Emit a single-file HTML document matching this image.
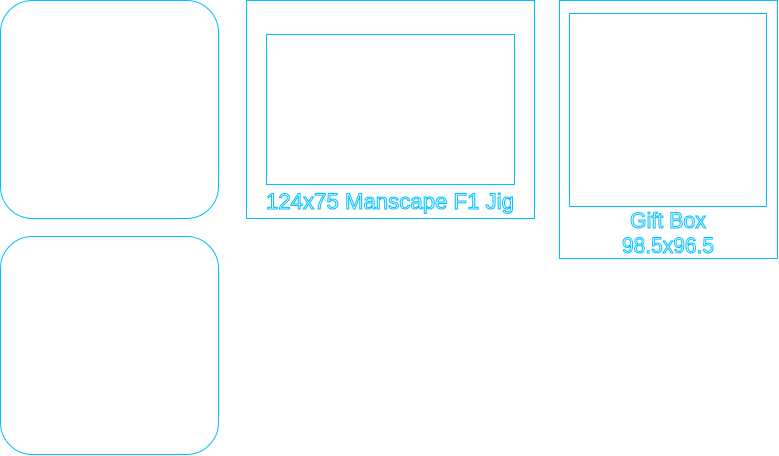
<!DOCTYPE html>
<html><head><style>html,body{margin:0;padding:0;background:#fff;width:779px;height:456px;overflow:hidden}</style></head>
<body>
<svg width="779" height="456" xmlns="http://www.w3.org/2000/svg" style="display:block">
<g fill="none" stroke="#00bfff" stroke-width="1">
<rect x="0.5" y="0.5" width="218" height="218" rx="32" ry="32"/>
<rect x="0.5" y="236.5" width="218" height="218" rx="32" ry="32"/>
<rect x="246.5" y="0.5" width="288" height="218"/>
<rect x="266.5" y="34.5" width="248" height="150"/>
<rect x="559.5" y="0.5" width="218" height="258"/>
<rect x="569.5" y="13.5" width="197" height="193"/>
</g>
<g fill="none" stroke="#00bfff" stroke-width="1" font-family="Liberation Sans, sans-serif" font-size="22" text-anchor="middle">
<text x="390" y="209" textLength="248" lengthAdjust="spacingAndGlyphs">124x75 Manscape F1 Jig</text>
<text x="668" y="228" textLength="76" lengthAdjust="spacingAndGlyphs">Gift Box</text>
<text x="668" y="253" textLength="92" lengthAdjust="spacingAndGlyphs">98.5x96.5</text>
</g>
</svg>
</body></html>
